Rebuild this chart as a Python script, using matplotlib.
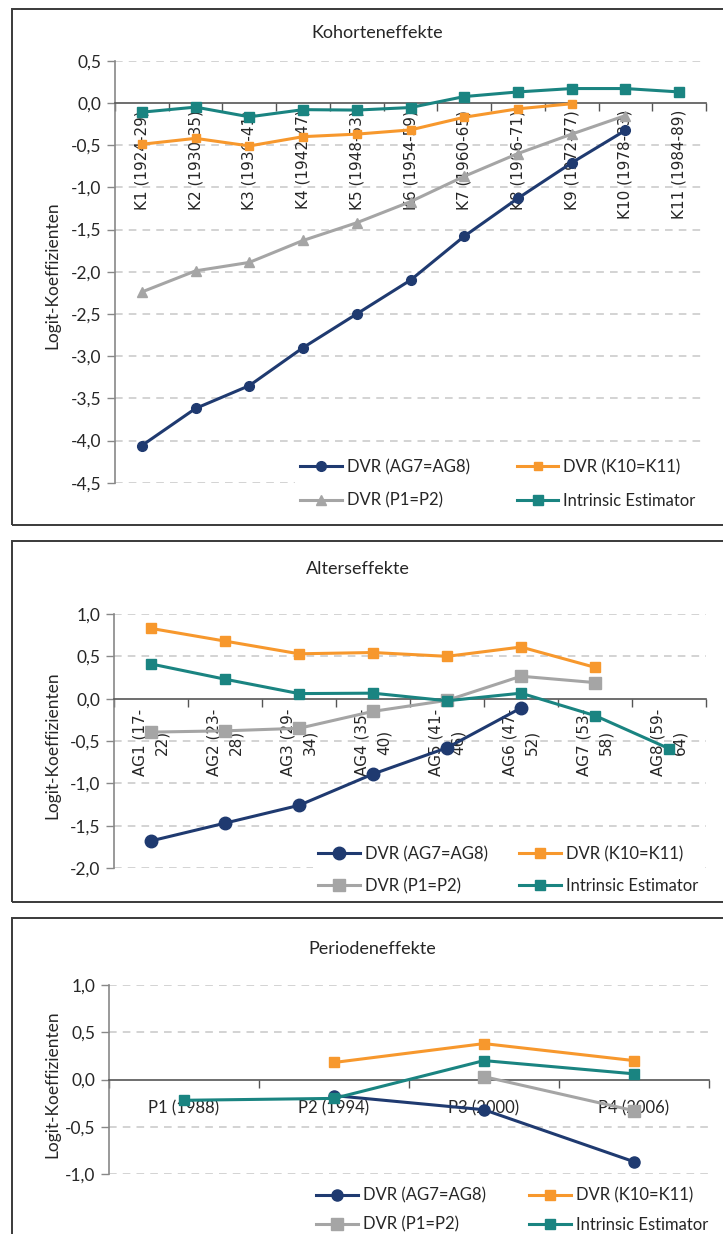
import numpy as np
import matplotlib
matplotlib.use("Agg")
import matplotlib.pyplot as plt
from matplotlib.patches import Rectangle
from matplotlib.ticker import FixedLocator, FuncFormatter, NullFormatter

nan = np.nan

# ---- Kohorteneffekte ----
cohorts = ["K1 (1924-29)", "K2 (1930-35)", "K3 (1936-41)", "K4 (1942-47)",
           "K5 (1948-53)", "K6 (1954-59)", "K7 (1960-65)", "K8 (1966-71)",
           "K9 (1972-77)", "K10 (1978-83)", "K11 (1984-89)"]
coh_dvr_ag = [-4.06, -3.62, -3.35, -2.90, -2.50, -2.10, -1.58, -1.13, -0.71, -0.325, nan]
coh_dvr_k = [-0.49, -0.42, -0.51, -0.40, -0.37, -0.32, -0.17, -0.07, -0.01, nan, nan]
coh_dvr_p = [-2.24, -1.99, -1.89, -1.63, -1.42, -1.17, -0.87, -0.60, -0.37, -0.15, nan]
coh_ie = [-0.11, -0.05, -0.165, -0.08, -0.085, -0.055, 0.075, 0.13, 0.17, 0.17, 0.13]

# ---- Alterseffekte ----
ages = ["AG1 (17-\n22)", "AG2 (23-\n28)", "AG3 (29-\n34)", "AG4 (35-\n40)",
        "AG5 (41-\n46)", "AG6 (47-\n52)", "AG7 (53-\n58)", "AG8 (59-\n64)"]
age_dvr_ag = [-1.68, -1.47, -1.26, -0.89, -0.58, -0.11, nan, nan]
age_dvr_k = [0.83, 0.68, 0.53, 0.545, 0.50, 0.61, 0.37, nan]
age_dvr_p = [-0.395, -0.38, -0.35, -0.15, -0.02, 0.265, 0.19, nan]
age_ie = [0.41, 0.23, 0.06, 0.065, -0.025, 0.065, -0.20, -0.59]

# ---- Periodeneffekte ----
periods = ["P1 (1988)", "P2 (1994)", "P3 (2000)", "P4 (2006)"]
per_dvr_ag = [nan, -0.17, -0.32, -0.87]
per_dvr_k = [nan, 0.18, 0.38, 0.20]
per_dvr_p = [nan, nan, 0.03, -0.33]
per_ie = [-0.22, -0.20, 0.20, 0.06]

labels = ["DVR (AG7=AG8)", "DVR (K10=K11)", "DVR (P1=P2)", "Intrinsic Estimator"]
colors = ["#1F3A70", "#F7982D", "#A5A5A5", "#1A8481"]

W, H = 723, 1234
fig = plt.figure(figsize=(W / 100, H / 100), dpi=100)
plt.rcParams["font.family"] = ["Lato", "DejaVu Sans"]


def fx(px):
    return px / W


def fy(py):
    return 1 - py / H


def box(x0, y0, x1, y1):
    fig.patches.append(Rectangle((fx(x0), fy(y1)), (x1 - x0) / W, (y1 - y0) / H,
                                 transform=fig.transFigure, fill=False,
                                 ec="#3A3A3A", lw=1.4))


def comma(v, _):
    return f"{v:.1f}".replace(".", ",")


def panel(x0, x1, ytop, ybot, ylim, cats, series, markers, msizes, title, title_xy,
          xlab_font, xlab_size, xlab_rot, xlab_pad, xlab_ls, ylabel_xy, leg_xy,
          colspace, rowspace):
    ax = fig.add_axes([fx(x0), fy(ybot), (x1 - x0) / W, (ybot - ytop) / H])
    n = len(cats)
    x = np.arange(n)
    handles = []
    for vals, col, mk, ms in zip(series, colors, markers, msizes):
        h, = ax.plot(x, vals, color=col, lw=2.2, marker=mk, ms=ms, mec=col, mfc=col,
                     zorder=3, clip_on=False)
        handles.append(h)
    ax.set_xlim(-0.5, n - 0.5)
    ax.set_ylim(*ylim)
    ticks = np.arange(ylim[0], ylim[1] + 1e-9, 0.5)
    ax.yaxis.set_major_locator(FixedLocator(ticks))
    ax.yaxis.set_major_formatter(FuncFormatter(comma))
    ax.tick_params(axis="y", direction="out", length=6, width=1, color="#888888",
                   labelsize=12.5, pad=4, labelcolor="#262626")
    for t in ticks:
        if abs(t) > 1e-9:
            ax.axhline(t, color="#C8C8C8", lw=1.1, ls=(0, (5, 4)), zorder=0.5)
    for s in ("top", "right"):
        ax.spines[s].set_visible(False)
    ax.spines["left"].set_color("#888888")
    ax.spines["left"].set_linewidth(1.2)
    ax.spines["bottom"].set_position(("data", 0))
    ax.spines["bottom"].set_color("#555555")
    ax.spines["bottom"].set_linewidth(1.2)
    ax.xaxis.set_major_locator(FixedLocator(x))
    ax.set_xticklabels(cats, fontfamily=xlab_font, fontsize=xlab_size, rotation=xlab_rot,
                       ha="center", va="top", multialignment="center", color="#262626",
                       linespacing=xlab_ls)
    ax.xaxis.set_minor_locator(FixedLocator(np.arange(-0.5, n, 1.0)))
    ax.xaxis.set_minor_formatter(NullFormatter())
    ax.tick_params(axis="x", which="major", length=0, pad=xlab_pad)
    ax.tick_params(axis="x", which="minor", direction="out", length=6, width=1,
                   color="#555555")
    ax.patch.set_alpha(0)
    fig.text(fx(title_xy[0]), fy(title_xy[1]), title, ha="center", va="center",
             fontsize=13, color="#262626")
    fig.text(fx(ylabel_xy[0]), fy(ylabel_xy[1]), "Logit-Koeffizienten", ha="center",
             va="center", rotation=90, fontsize=12.5, color="#262626")
    order = [0, 2, 1, 3]
    leg = ax.legend([handles[i] for i in order], [labels[i] for i in order], ncol=2,
                    loc="center", bbox_to_anchor=(fx(leg_xy[0]), fy(leg_xy[1])),
                    bbox_transform=fig.transFigure, frameon=True, facecolor="white",
                    edgecolor="none", framealpha=1, fontsize=12, handlelength=2.5,
                    handletextpad=0.3, columnspacing=colspace, labelspacing=rowspace,
                    borderpad=0.3)
    for t in leg.get_texts():
        t.set_color("#262626")
    leg.set_zorder(5)
    return ax


# frames around the three charts
box(12, 9, 740, 525)
box(12, 541, 740, 902)
box(12, 918, 740, 1260)

panel(115, 706, 60.7, 482.7, (-4.5, 0.5), cohorts,
      [coh_dvr_ag, coh_dvr_k, coh_dvr_p, coh_ie], ["o", "s", "^", "s"], [7, 6, 7.5, 7],
      "Kohorteneffekte", (377, 33), "DejaVu Sans", 11, 90, 5, 1.2, (52, 275),
      (498, 484), 2.8, 1.05)

panel(114, 706, 614, 868, (-2.0, 1.0), ages,
      [age_dvr_ag, age_dvr_k, age_dvr_p, age_ie], ["o", "s", "s", "s"], [9, 7, 8.5, 7],
      "Alterseffekte", (358, 569), "DejaVu Sans", 11, 90, 7, 1.55, (52, 745),
      (508, 870), 1.9, 0.95)

panel(109, 709, 985, 1174, (-1.0, 1.0), periods,
      [per_dvr_ag, per_dvr_k, per_dvr_p, per_ie], ["o", "s", "s", "s"], [8, 6.5, 8, 7],
      "Periodeneffekte", (372, 949), "Lato", 12, 0, 15, 1.2, (52, 1084),
      (512, 1210), 2.6, 0.8)

fig.savefig("out.png", dpi=100)
